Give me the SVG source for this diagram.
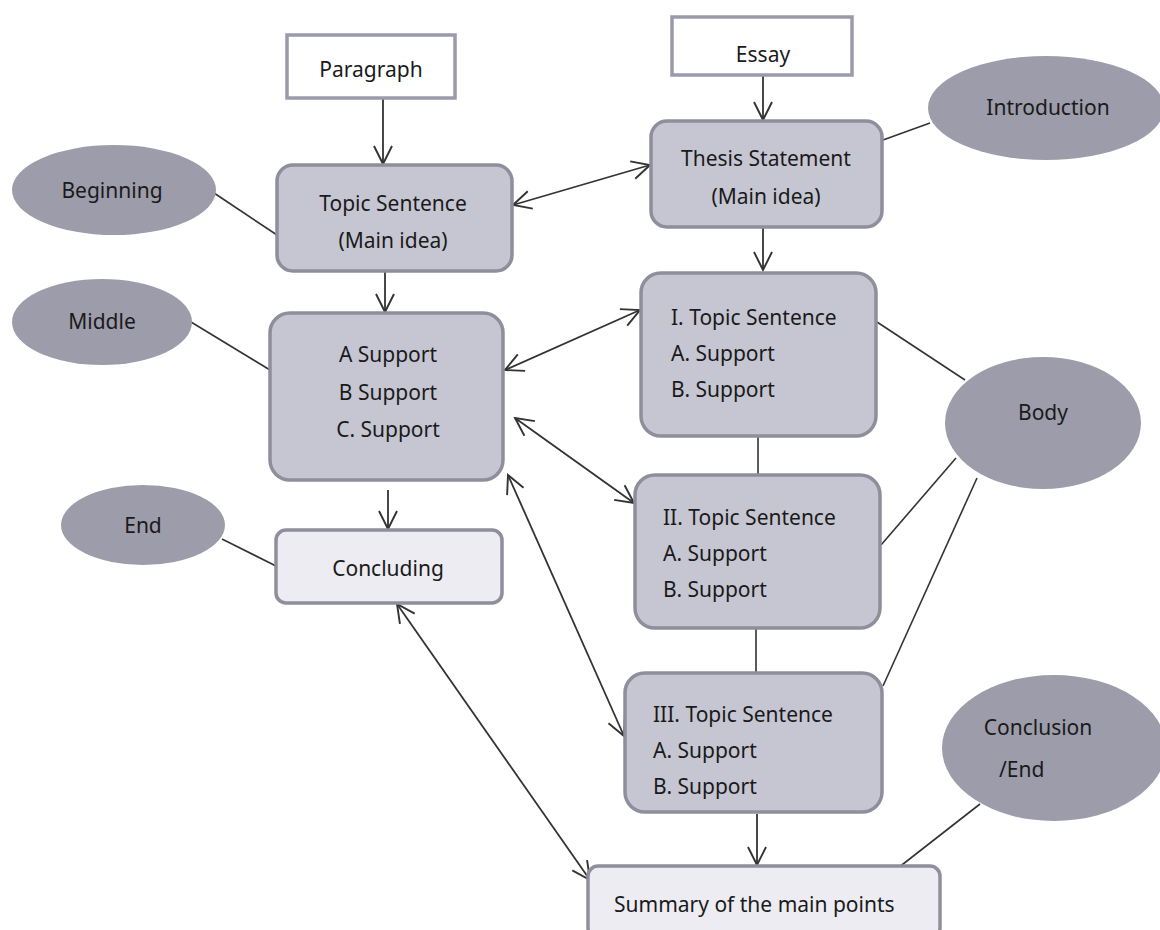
<svg xmlns="http://www.w3.org/2000/svg" width="1160" height="930" viewBox="0 0 1160 930">
<defs>
<style>
text{font-family:"Noto Sans","Open Sans",sans-serif;font-size:21px;fill:#1a1a1a}
.c{text-anchor:middle}
.box{fill:#c6c6d2;stroke:#8e8e9c;stroke-width:3.5}
.lite{fill:#ececf2;stroke:#8e8e9c;stroke-width:3.5}
.white{fill:#ffffff;stroke:#9a9aac;stroke-width:3.5}
.ell{fill:#9d9cab;stroke:none}
.ln{stroke:#333;stroke-width:1.6;fill:none}
.arr{stroke:#333;stroke-width:1.8;fill:none;marker-end:url(#ah)}
.dbl{stroke:#333;stroke-width:1.8;fill:none;marker-end:url(#ah);marker-start:url(#ah)}
</style>
<marker id="ah" viewBox="0 0 22 22" refX="20" refY="11" markerWidth="22" markerHeight="22" markerUnits="userSpaceOnUse" orient="auto-start-reverse">
<path d="M2,2 L20,11 L2,20" fill="none" stroke="#333" stroke-width="1.9"/>
</marker>
</defs>
<rect width="1160" height="930" fill="#ffffff"/>

<g id="connectors">
<line class="arr" x1="383" y1="98" x2="383" y2="164"/>
<line class="arr" x1="763" y1="75" x2="763" y2="120"/>
<line class="arr" x1="763" y1="228" x2="763" y2="270"/>
<line class="arr" x1="385" y1="272" x2="385" y2="312"/>
<line class="arr" x1="388" y1="490" x2="388" y2="529"/>
<line class="arr" x1="757" y1="814" x2="757" y2="865"/>
<line class="dbl" x1="513" y1="205" x2="650" y2="165"/>
<line class="dbl" x1="505" y1="370" x2="640" y2="310"/>
<line class="dbl" x1="515" y1="418" x2="634" y2="503"/>
<line class="dbl" x1="508" y1="475" x2="624" y2="736"/>
<line class="dbl" x1="397" y1="604" x2="590" y2="880"/>
<line class="ln" x1="758" y1="437" x2="758" y2="474"/>
<line class="ln" x1="756" y1="629" x2="756" y2="672"/>
<line class="ln" x1="214" y1="193" x2="277" y2="235"/>
<line class="ln" x1="191" y1="322" x2="270" y2="370"/>
<line class="ln" x1="222" y1="539" x2="276" y2="566"/>
<line class="ln" x1="883" y1="140" x2="930" y2="123"/>
<line class="ln" x1="877" y1="322" x2="965" y2="380"/>
<line class="ln" x1="881" y1="545" x2="956" y2="458"/>
<line class="ln" x1="883" y1="686" x2="977" y2="478"/>
<line class="ln" x1="898" y1="868" x2="980" y2="804"/>
</g>

<g id="paragraph"><rect class="white" x="287" y="35" width="168" height="63"/><text class="c" x="371" y="77">Paragraph</text></g>
<g id="essay"><rect class="white" x="672" y="17" width="180" height="58"/><text class="c" x="763" y="62">Essay</text></g>
<g id="topic-sentence"><rect class="box" x="277" y="165" width="235" height="106" rx="16"/><text class="c" x="393" y="211">Topic Sentence</text><text class="c" x="393" y="248">(Main idea)</text></g>
<g id="thesis"><rect class="box" x="651" y="121" width="231" height="106" rx="16"/><text class="c" x="766" y="166">Thesis Statement</text><text class="c" x="766" y="204">(Main idea)</text></g>
<g id="support"><rect class="box" x="270" y="313" width="233" height="167" rx="20"/><text class="c" x="388" y="362">A Support</text><text class="c" x="388" y="400">B Support</text><text class="c" x="388" y="437">C. Support</text></g>
<g id="concluding"><rect class="lite" x="276" y="530" width="226" height="73" rx="10"/><text class="c" x="388" y="576">Concluding</text></g>
<g id="topic-1"><rect class="box" x="641" y="273" width="235" height="163" rx="20"/><text x="671" y="325">I. Topic Sentence</text><text x="671" y="361">A. Support</text><text x="671" y="397">B. Support</text></g>
<g id="topic-2"><rect class="box" x="635" y="475" width="245" height="153" rx="20"/><text x="663" y="525">II. Topic Sentence</text><text x="663" y="561">A. Support</text><text x="663" y="597">B. Support</text></g>
<g id="topic-3"><rect class="box" x="625" y="673" width="257" height="139" rx="20"/><text x="653" y="722">III. Topic Sentence</text><text x="653" y="758">A. Support</text><text x="653" y="794">B. Support</text></g>
<g id="summary"><rect class="lite" x="588" y="866" width="352" height="72" rx="10"/><text x="614" y="912">Summary of the main points</text></g>

<g id="beginning"><ellipse class="ell" cx="114" cy="190" rx="102" ry="45"/><text class="c" x="112" y="198">Beginning</text></g>
<g id="middle"><ellipse class="ell" cx="102" cy="322" rx="90" ry="43"/><text class="c" x="102" y="329">Middle</text></g>
<g id="end"><ellipse class="ell" cx="143" cy="525" rx="82" ry="40"/><text class="c" x="143" y="533">End</text></g>
<g id="introduction"><ellipse class="ell" cx="1046" cy="108" rx="118" ry="52"/><text class="c" x="1048" y="115">Introduction</text></g>
<g id="body"><ellipse class="ell" cx="1043" cy="423" rx="98" ry="66"/><text class="c" x="1043" y="420">Body</text></g>
<g id="conclusion"><ellipse class="ell" cx="1054" cy="748" rx="112" ry="73"/><text class="c" x="1038" y="735">Conclusion</text><text x="999" y="777">/End</text></g>
</svg>
